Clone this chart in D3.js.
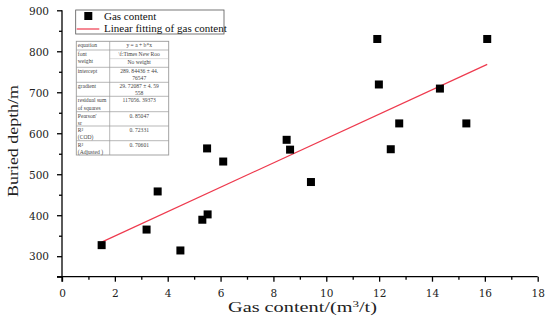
<!DOCTYPE html>
<html><head><meta charset="utf-8">
<script src="https://cdn.jsdelivr.net/npm/d3@7"></script>
<style>body{margin:0;background:#fff}svg{display:block}</style>
</head><body>
<svg id="c" width="550" height="335"></svg>
<script>
const gasContent = [1.50,3.20,3.62,4.48,5.31,5.51,5.49,6.10,8.50,8.63,9.42,11.93,11.99,12.44,12.76,14.30,15.30,16.09];
const buriedDepth = [327,365,458,314,389,402,563,531,584,560,481,830,719,561,624,709,624,830];
const fitIntercept = 289.84436;
const fitSlope = 29.72087;
const xTicks = [0,2,4,6,8,10,12,14,16,18];
const yTicks = [300,400,500,600,700,800,900];
const legendLabels = ["Gas content","Linear fitting of gas content"];
const tableLeft = [["equation"],["font","weight"],["intercept"],["gradient"],["residual sum","of squares"],["Pearson'","sr"],["R²","(COD)"],["R²","(Adjusted )"]];
const tableRight = [["y = a + b*x"],["\\f:Times New Roo","No weight"],["289. 84436  ±  44.","76547"],["29. 72087  ±  4. 59","558"],["117056. 39373"],["0. 85047"],["0. 72331"],["0. 70601"]];

const svg = d3.select("#c");
const x = d3.scaleLinear().domain([0,18]).range([62,537.7]);
const y = d3.scaleLinear().domain([250,900]).range([276.7,10.3]);
const tickFont = "'DejaVu Serif', serif";

// X axis
const xAxisG = svg.append("g").attr("transform",`translate(0,${y(250)})`);
xAxisG.call(d3.axisBottom(x).tickValues(d3.range(0,19,1)).tickSize(3).tickFormat(""));
xAxisG.call(g=>g.selectAll(".tick line").filter(d=>d%2===0).attr("y2",5));
xAxisG.selectAll(".tick").filter(d=>xTicks.includes(d)).append("text")
  .attr("y",20.3).attr("fill","#222").attr("text-anchor","middle")
  .style("font-family",tickFont).style("font-size","10.5px").text(d=>d);
xAxisG.select(".domain").attr("d",`M${x(0)-5},0H${x(18)}`);

// Y axis
const yAxisG = svg.append("g").attr("transform",`translate(${x(0)},0)`);
yAxisG.call(d3.axisLeft(y).tickValues(d3.range(250,901,50)).tickSize(3).tickFormat(""));
yAxisG.call(g=>g.selectAll(".tick line").filter(d=>d%100===0||d===250).attr("x2",-5));
yAxisG.selectAll(".tick").filter(d=>yTicks.includes(d)).append("text")
  .attr("x",-13).attr("dy","0.36em").attr("fill","#222").attr("text-anchor","end")
  .style("font-family",tickFont).style("font-size","10.5px").text(d=>d);
yAxisG.select(".domain").attr("d",`M0,${y(250)+5}V${y(900)}`);
svg.selectAll(".domain, .tick line").attr("stroke","#000").attr("stroke-width",1.3);

// Axis titles
svg.append("text").attr("x",302.5).attr("y",311.5).attr("text-anchor","middle")
  .attr("textLength",149).attr("lengthAdjust","spacingAndGlyphs")
  .style("font-family","'Liberation Serif', serif").style("font-size","14px").attr("fill","#222")
  .call(t=>{t.append("tspan").text("Gas content/(m");
    t.append("tspan").attr("dy",-5).style("font-size","9px").text("3");
    t.append("tspan").attr("dy",5).text("/t)");});
svg.append("text").attr("transform","translate(17.5,141) rotate(-90)").attr("text-anchor","middle")
  .attr("textLength",112).attr("lengthAdjust","spacingAndGlyphs")
  .style("font-family","'Liberation Serif', serif").style("font-size","15px").attr("fill","#222")
  .text("Buried depth/m");

// Fit line
const xr = d3.extent(gasContent);
svg.append("path").datum(xr)
  .attr("d",d3.line().x(d=>x(d)).y(d=>y(fitIntercept+fitSlope*d)))
  .attr("stroke","#ee3a4e").attr("stroke-width",1.2).attr("fill","none");

// Points
svg.append("g").selectAll("rect").data(gasContent.map((g,i)=>[g,buriedDepth[i]])).join("rect")
  .attr("x",d=>x(d[0])-4).attr("y",d=>y(d[1])-4).attr("width",8).attr("height",8).attr("fill","#000");

// Legend
const lg = svg.append("g");
lg.append("rect").attr("x",75.7).attr("y",10).attr("width",148.3).attr("height",24)
  .attr("fill","#fff").attr("stroke","#555").attr("stroke-width",0.8);
lg.append("rect").attr("x",84.3).attr("y",12).attr("width",8).attr("height",8).attr("fill","#000");
lg.append("line").attr("x1",76.7).attr("x2",99.3).attr("y1",29).attr("y2",29).attr("stroke","#ee3a4e").attr("stroke-width",1.2);
lg.selectAll("text").data(legendLabels).join("text")
  .attr("x",104).attr("y",(d,i)=>19.5+i*12.6)
  .style("font-family","'Liberation Serif', serif").style("font-size","11px").attr("fill","#111").text(d=>d);

// Table
const rowB = [41.3,50,67.3,82.3,96.3,111.7,126,140.7,155];
const tl=76.3, tm=109.7, tr=168.7;
const tg = svg.append("g").style("font-family","'Liberation Serif', serif").style("font-size","5.6px").attr("fill","#444");
tg.append("rect").attr("x",tl).attr("y",rowB[0]).attr("width",tr-tl).attr("height",rowB[8]-rowB[0])
  .attr("fill","#fff").attr("stroke","#999").attr("stroke-width",0.9);
tg.append("line").attr("x1",tm).attr("x2",tm).attr("y1",rowB[0]).attr("y2",rowB[8]).attr("stroke","#999").attr("stroke-width",0.7);
rowB.slice(1,8).forEach(b=>tg.append("line").attr("x1",tl).attr("x2",tr).attr("y1",b).attr("y2",b).attr("stroke","#999").attr("stroke-width",0.7));
tg.append("line").attr("x1",tm).attr("x2",tr).attr("y1",(rowB[1]+rowB[2])/2).attr("y2",(rowB[1]+rowB[2])/2).attr("stroke","#bbb").attr("stroke-width",0.5);
tableLeft.forEach((lines,i)=>{
  lines.forEach((s,j)=>tg.append("text").attr("x",tl+1.5).attr("y",rowB[i]+5.8+j*7.6).text(s));
});
tableRight.forEach((lines,i)=>{
  const split = i===1;
  lines.forEach((s,j)=>tg.append("text").attr("x",(tm+tr)/2).attr("text-anchor","middle")
    .attr("y",rowB[i]+5.8+j*(split?8.6:6.6)).text(s));
});
</script>
</body></html>
